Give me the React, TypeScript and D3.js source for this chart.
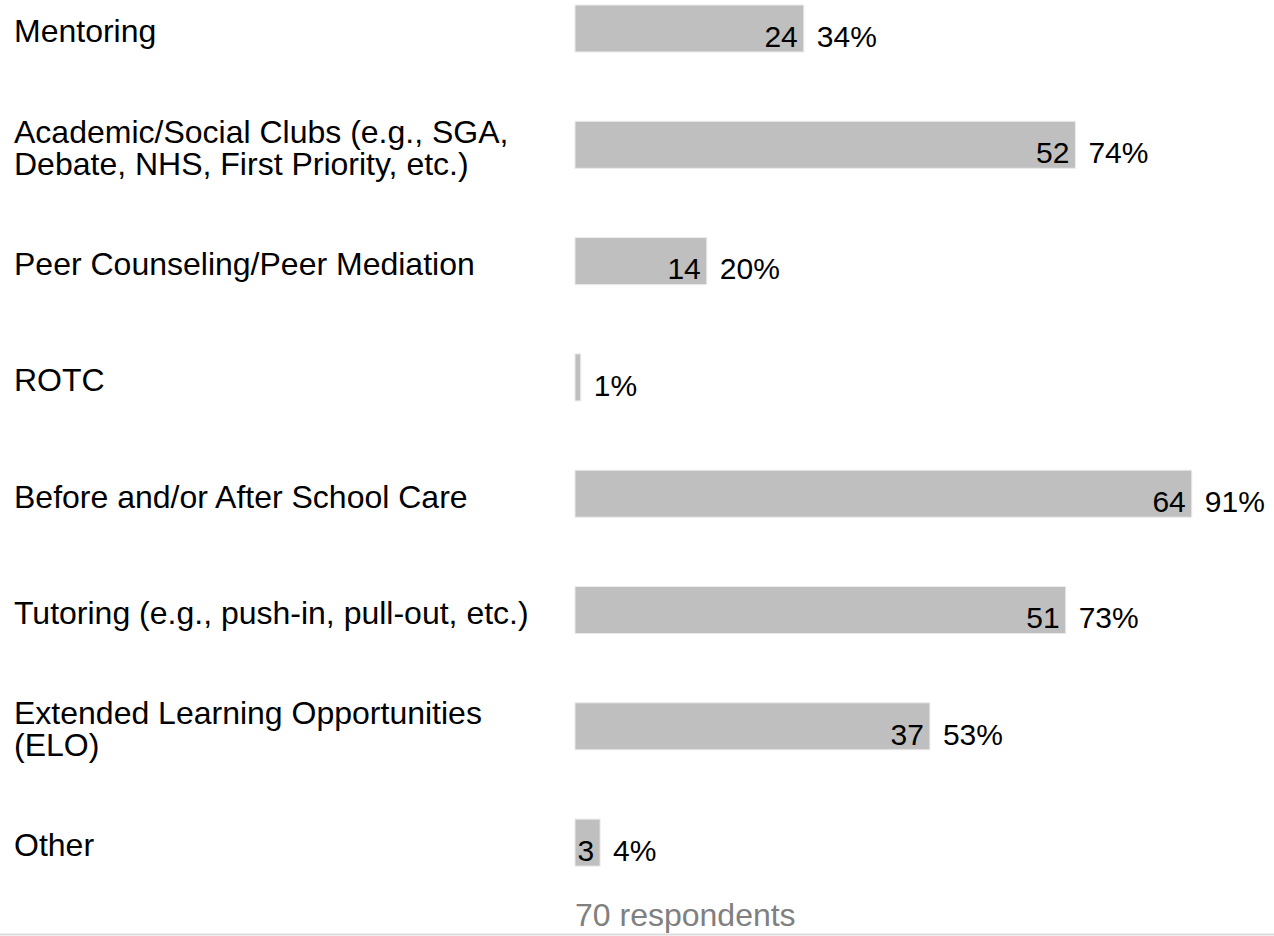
import React from "react";
import * as d3 from "d3";

const categories: string[] = [
  "Mentoring",
  "Academic/Social Clubs (e.g., SGA,\nDebate, NHS, First Priority, etc.)",
  "Peer Counseling/Peer Mediation",
  "ROTC",
  "Before and/or After School Care",
  "Tutoring (e.g., push-in, pull-out, etc.)",
  "Extended Learning Opportunities\n(ELO)",
  "Other",
];
const counts: number[] = [24, 52, 14, 1, 64, 51, 37, 3];
const percents: number[] = [34, 74, 20, 1, 91, 73, 53, 4];
const totalRespondents = 70;

const W = 1274;
const H = 936;
const FONT = "'Liberation Sans', Arial, Helvetica, sans-serif";

export default function App() {
  const x = d3.scaleLinear().domain([0, totalRespondents]).range([575, 1254]);
  const y = d3
    .scalePoint<string>()
    .domain(categories)
    .range([28.5, 842.6]);
  const barH = 47;

  return (
    <svg
      width={W}
      height={H}
      style={{ position: "absolute", left: 0, top: 0, background: "#fff" }}
      fontFamily={FONT}
    >
      {categories.map((c, i) => {
        const cy = y(c) as number;
        const lines = c.split("\n");
        const x0 = x(0);
        const x1 = x(counts[i]) - 4;
        const bw = x1 - x0;
        const capCenter = cy + 2.3;
        return (
          <g key={c}>
            <text fontSize={32} fill="#000">
              {lines.map((ln, j) => (
                <tspan
                  key={j}
                  x={14}
                  y={capCenter + 11.5 + (j - (lines.length - 1) / 2) * 32}
                >
                  {ln}
                </tspan>
              ))}
            </text>
            <rect
              x={x0}
              y={cy - barH / 2}
              width={bw}
              height={barH}
              fill="#bfbfbf"
              stroke="#ececec"
              strokeWidth={1}
            />
            {bw > 20 && (
              <text
                x={x1 - 6}
                y={cy + 18.2}
                fontSize={30}
                textAnchor="end"
                fill="#000"
              >
                {counts[i]}
              </text>
            )}
            <text x={x1 + 13} y={cy + 18.2} fontSize={30} fill="#000">
              {percents[i]}%
            </text>
          </g>
        );
      })}
      <text x={575} y={926} fontSize={32} fill="#808080">
        {totalRespondents} respondents
      </text>
      <line x1={0} x2={W} y1={934.5} y2={934.5} stroke="#dcdcdc" strokeWidth={2} />
    </svg>
  );
}
